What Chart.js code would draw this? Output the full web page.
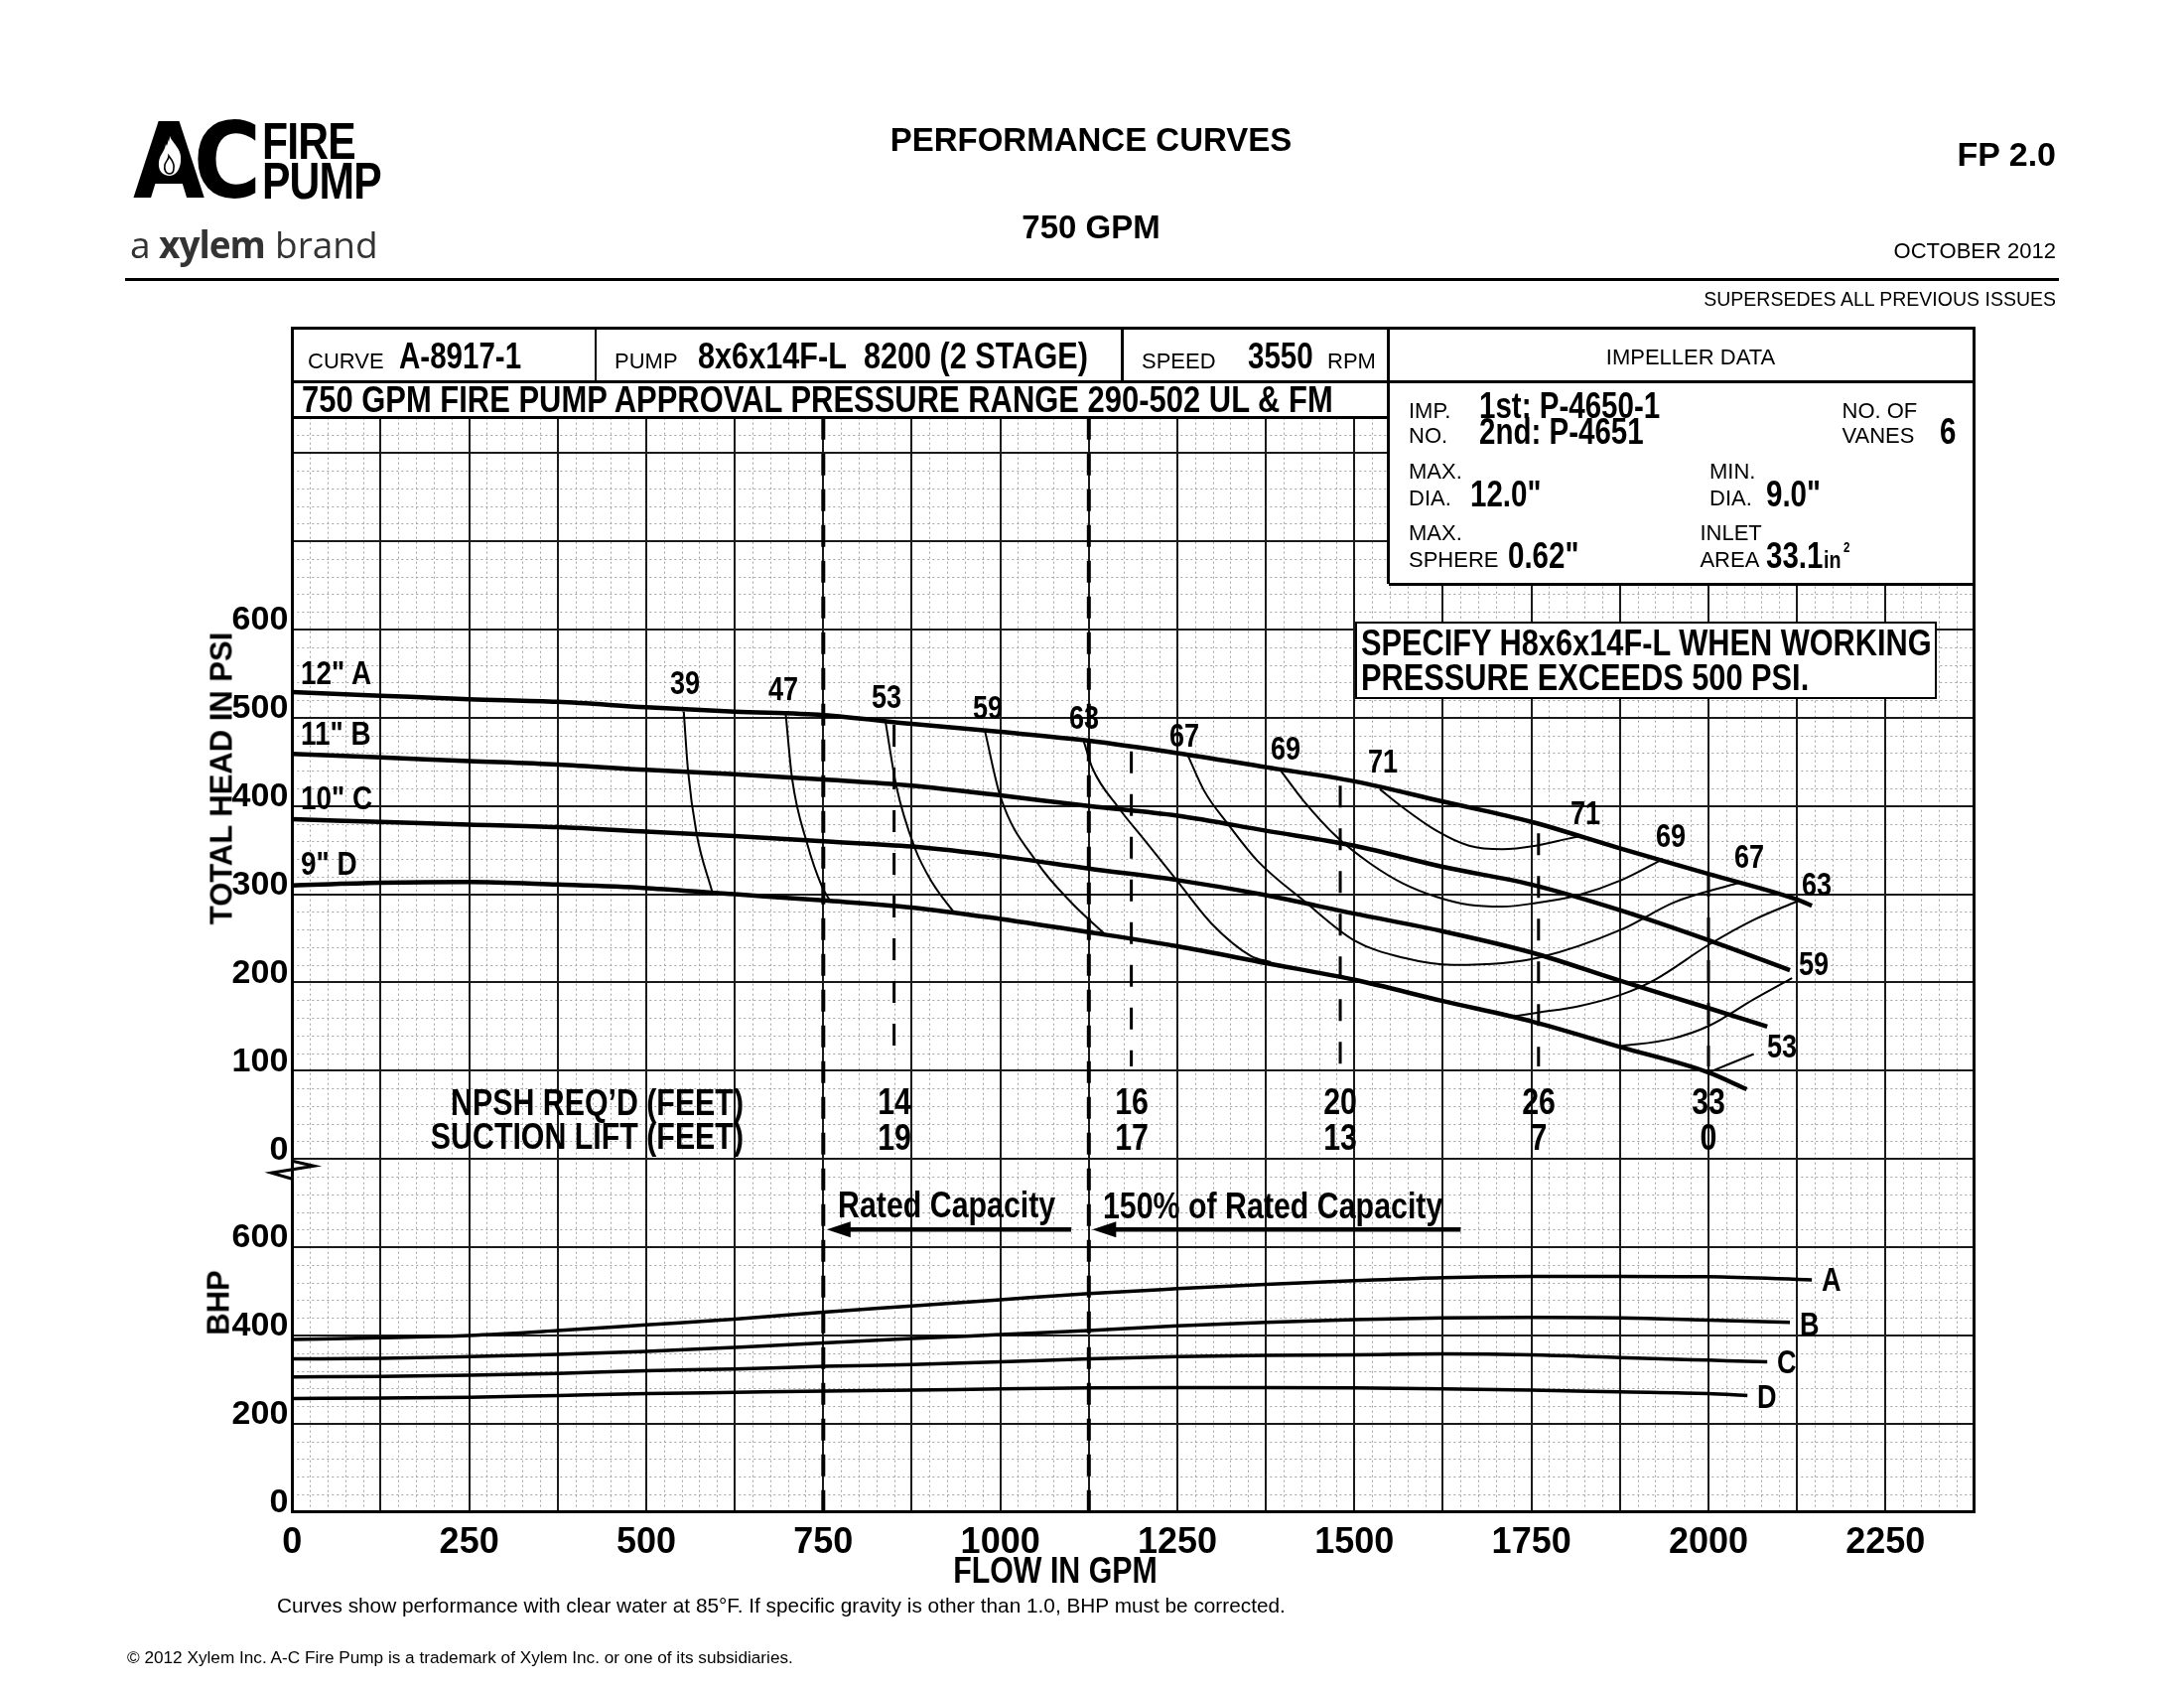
<!DOCTYPE html>
<html>
<head>
<meta charset="utf-8">
<title>Performance Curves - 750 GPM</title>
<script src="https://cdn.jsdelivr.net/npm/chart.js@4.4.1/dist/chart.umd.min.js"></script>
<style>
  html, body { margin: 0; padding: 0; background: #fff; }
  #page { position: relative; width: 2200px; height: 1700px; overflow: hidden; background: #fff;
          font-family: 'Liberation Sans', Arial, Helvetica, sans-serif; color: #000; }
  #chart { position: absolute; left: 0; top: 0; }
  .t { position: absolute; white-space: pre; line-height: 1; transform-origin: 0 0; }
</style>
</head>
<body>
<div id="page">
  <canvas id="chart" width="2200" height="1700"></canvas>
</div>
<script>
// ---- values ----
const flowTicks = [0, 250, 500, 750, 1000, 1250, 1500, 1750, 2000, 2250];
const headTicks = [0, 100, 200, 300, 400, 500, 600];
const bhpTicks = [0, 200, 400, 600];

// total head (psi) for the four impeller diameters
const headFlowA = [0, 125, 250, 375, 500, 625, 750, 875, 1000, 1125, 1250, 1375, 1500, 1625, 1750, 1875, 2000, 2125, 2146];
const headA     = [529, 525, 521, 518, 512, 507, 503, 493, 484, 474, 460, 444, 428, 405, 382, 352, 323, 294, 287];
const headFlowB = [0, 125, 250, 375, 500, 625, 750, 875, 1000, 1125, 1250, 1375, 1500, 1625, 1750, 1875, 2000, 2115];
const headB     = [459, 455, 451, 447, 441, 436, 430, 423, 412, 400, 389, 372, 355, 331, 311, 282, 248, 214];
const headFlowC = [0, 125, 250, 375, 500, 625, 750, 875, 1000, 1125, 1250, 1375, 1500, 1625, 1750, 1875, 2000, 2083];
const headC     = [385, 382, 379, 376, 371, 366, 360, 354, 343, 329, 316, 299, 278, 258, 234, 202, 171, 150];
const headFlowD = [0, 125, 250, 375, 500, 625, 750, 875, 1000, 1125, 1250, 1375, 1500, 1625, 1750, 1875, 2000, 2054];
const headD     = [310, 313, 314, 311, 307, 300, 293, 285, 272, 257, 241, 222, 203, 179, 156, 127, 98, 79];

// brake horsepower
const bhpFlowA = [0, 125, 250, 375, 500, 625, 750, 875, 1000, 1125, 1250, 1375, 1500, 1625, 1750, 1875, 2000, 2146];
const bhpA     = [391, 395, 400, 411, 424, 437, 453, 467, 481, 495, 506, 516, 524, 531, 534, 534, 533, 526];
const bhpFlowB = [0, 125, 250, 375, 500, 625, 750, 875, 1000, 1125, 1250, 1375, 1500, 1625, 1750, 1875, 2000, 2115];
const bhpB     = [347, 348, 352, 357, 364, 373, 383, 393, 402, 411, 422, 430, 436, 440, 441, 440, 435, 430];
const bhpFlowC = [0, 125, 250, 375, 500, 625, 750, 875, 1000, 1125, 1250, 1375, 1500, 1625, 1750, 1875, 2000, 2083];
const bhpC     = [306, 307, 310, 314, 320, 324, 330, 334, 340, 347, 352, 355, 356, 358, 356, 350, 344, 340];
const bhpFlowD = [0, 125, 250, 375, 500, 625, 750, 875, 1000, 1125, 1250, 1375, 1500, 1625, 1750, 1875, 2000, 2055];
const bhpD     = [257, 258, 260, 264, 268, 271, 274, 276, 279, 281, 282, 282, 281, 279, 276, 272, 268, 264];

// iso-efficiency lines [flow, head]
const eff39 = [[553, 507], [559, 440], [571, 369], [593, 303]];
const eff47 = [[697, 504], [706, 431], [727, 358], [748, 309], [760, 292]];
const eff53 = [[838, 495], [853, 423], [879, 353], [904, 313], [936, 278]];
const eff59 = [[978, 486], [1000, 411], [1052, 336], [1101, 290], [1146, 256]];
const eff63 = [[1118, 473], [1130, 443], [1167, 398], [1204, 361], [1249, 316], [1298, 267], [1354, 230], [1382, 223]];
const eff67 = [[1265, 457], [1288, 417], [1321, 380], [1363, 338], [1428, 293], [1499, 248], [1569, 228], [1639, 220],
               [1709, 222], [1760, 228], [1877, 260], [1952, 291], [2043, 313]];
const eff69 = [[1396, 440], [1428, 406], [1475, 365], [1522, 335], [1569, 312], [1616, 297], [1662, 288], [1709, 286],
               [1756, 290], [1816, 299], [1877, 316], [1936, 340]];
const eff71 = [[1536, 419], [1569, 398], [1616, 372], [1662, 355], [1709, 351], [1756, 355], [1802, 363], [1820, 366]];
const eff63b = [[1728, 162], [1760, 166], [1816, 173], [1876, 186], [1924, 203], [2001, 243], [2064, 271], [2125, 292]];
const eff59b = [[1877, 128], [1947, 136], [2001, 151], [2064, 181], [2118, 205]];
const eff53b = [[2000, 98], [2064, 119]];

// NPSH table
const npshFlow = [850, 1185, 1480, 1760, 2000];
const npshReq = [14, 16, 20, 26, 33];
const suctionLift = [19, 17, 13, 7, 0];
const npshTop = [492, 462, 423, 369, 322];
const npshFoot = 105;

const ratedFlow = [750, 1125];

// ---- fonts ----
function hasFont(name) {
  const c = document.createElement('canvas').getContext('2d');
  const s = 'abcdefghijklmnopqrstuvwxyzABCDEFGH0123456789';
  c.font = 'bold 40px monospace';
  const w0 = c.measureText(s).width;
  c.font = "bold 40px '" + name + "', monospace";
  return Math.abs(c.measureText(s).width - w0) > 1;
}
const NARROW = hasFont('Liberation Sans Narrow');
const narrowFamily = NARROW ? "'Liberation Sans Narrow', 'Liberation Sans', sans-serif" : "'Liberation Sans', Arial, sans-serif";
const squeeze = NARROW ? 1 : 0.82;

// ---- chart ----
const headMin = -400, headMax = 840, bhpMax = 2480;

function pts(fl, vals) { return fl.map(function(f, i) { return {x: f, y: vals[i]}; }); }
function pairs(arr) { return arr.map(function(p) { return {x: p[0], y: p[1]}; }); }

const datasets = [];
[[headFlowA, headA], [headFlowB, headB], [headFlowC, headC], [headFlowD, headD]].forEach(function(c) {
  datasets.push({data: pts(c[0], c[1]), yAxisID: 'yH', borderWidth: 4.5, cubicInterpolationMode: 'monotone'});
});
[[bhpFlowA, bhpA], [bhpFlowB, bhpB], [bhpFlowC, bhpC], [bhpFlowD, bhpD]].forEach(function(c) {
  datasets.push({data: pts(c[0], c[1]), yAxisID: 'yB', borderWidth: 3.5, cubicInterpolationMode: 'monotone'});
});
[eff39, eff47, eff53, eff59, eff63, eff67, eff69, eff71, eff63b, eff59b, eff53b].forEach(function(e) {
  datasets.push({data: pairs(e), yAxisID: 'yH', borderWidth: 2, cubicInterpolationMode: 'monotone'});
});
ratedFlow.forEach(function(f) {
  datasets.push({data: [{x: f, y: headMin}, {x: f, y: headMax}], yAxisID: 'yH', borderWidth: 4, borderDash: [22, 14], tension: 0});
});
const npshMarks = [];
npshFlow.forEach(function(f, i) {
  npshMarks.push({x: f, y: npshTop[i]}, {x: f, y: npshFoot}, {x: f, y: null});
});
datasets.push({data: npshMarks, yAxisID: 'yH', borderWidth: 3, borderDash: [22, 21], tension: 0, spanGaps: false});

const paperGrid = {
  id: 'paperGrid',
  beforeDraw: function(chart) {
    const ctx = chart.ctx, a = chart.chartArea, x = chart.scales.x, yH = chart.scales.yH;
    ctx.save();
    ctx.strokeStyle = '#a3a3a3';
    ctx.lineWidth = 1;
    ctx.setLineDash([2, 3]);
    ctx.beginPath();
    for (let f = 25; f < x.max; f += 25) {
      if (f % 125 === 0) continue;
      const px = Math.round(x.getPixelForValue(f)) + 0.5;
      ctx.moveTo(px, a.top); ctx.lineTo(px, a.bottom);
    }
    for (let h = yH.min + 20; h < yH.max; h += 20) {
      if (h % 100 === 0) continue;
      const py = Math.round(yH.getPixelForValue(h)) + 0.5;
      ctx.moveTo(a.left, py); ctx.lineTo(a.right, py);
    }
    ctx.stroke();
    ctx.restore();
  },
  afterDraw: function(chart) {
    const ctx = chart.ctx, x = chart.scales.x, yH = chart.scales.yH, yB = chart.scales.yB;
    const ax = x.getPixelForValue(0), y0 = yH.getPixelForValue(0);
    ctx.save();
    ctx.strokeStyle = '#000';
    ctx.fillStyle = '#000';
    ctx.setLineDash([]);
    // axis break between the head and BHP panels
    ctx.lineWidth = 3;
    ctx.beginPath();
    ctx.moveTo(ax, y0 + 2); ctx.lineTo(ax + 22, y0 + 7); ctx.lineTo(ax - 21, y0 + 14); ctx.lineTo(ax, y0 + 20);
    ctx.stroke();
    // capacity arrows
    const ay = yB.getPixelForValue(640);
    [[ratedFlow[0], 1100], [ratedFlow[1], 1650]].forEach(function(r) {
      const tip = x.getPixelForValue(r[0]) + 3.5, end = x.getPixelForValue(r[1]);
      ctx.lineWidth = 4.5;
      ctx.beginPath(); ctx.moveTo(tip + 18, ay); ctx.lineTo(end, ay); ctx.stroke();
      ctx.beginPath(); ctx.moveTo(tip, ay); ctx.lineTo(tip + 24, ay - 8); ctx.lineTo(tip + 24, ay + 8); ctx.closePath(); ctx.fill();
    });
    ctx.restore();
  }
};

const chart = new Chart(document.getElementById('chart'), {
  type: 'line',
  data: {datasets: datasets},
  options: {
    responsive: false,
    animation: false,
    events: [],
    layout: {padding: {left: 0, right: 211.5, top: 420.7, bottom: 117.3}},
    plugins: {legend: {display: false}, tooltip: {enabled: false}},
    elements: {
      point: {radius: 0, hitRadius: 0},
      line: {borderColor: '#000', fill: false, borderCapStyle: 'butt'}
    },
    scales: {
      x: {
        type: 'linear', min: 0, max: 2375,
        afterFit: function(s) { s.height = 60; },
        border: {display: false},
        grid: {color: '#1a1a1a', lineWidth: 2, drawTicks: false},
        ticks: {
          stepSize: 125, autoSkip: false, maxRotation: 0, padding: 10, color: '#000',
          font: {family: narrowFamily, size: 36, weight: 'bold'},
          callback: function(v) { return flowTicks.indexOf(Math.round(v)) >= 0 ? String(Math.round(v)) : ''; }
        }
      },
      yH: {
        type: 'linear', position: 'left', min: headMin, max: headMax,
        afterFit: function(s) { s.width = 294.3; },
        border: {display: false},
        grid: {
          drawTicks: false, lineWidth: 2,
          color: function(c) { return Math.round(c.tick.value) % 100 === 0 ? '#1a1a1a' : 'rgba(0,0,0,0)'; }
        },
        ticks: {
          stepSize: 20, autoSkip: false, padding: 4, labelOffset: -9, color: '#000',
          font: {family: narrowFamily, size: 34, weight: 'bold'},
          callback: function(v) {
            v = Math.round(v);
            if (v >= 0) return headTicks.indexOf(v) >= 0 ? String(v) : '';
            const bhp = Math.round((v - headMin) / (headMax - headMin) * bhpMax);
            return bhpTicks.indexOf(bhp) >= 0 ? String(bhp) : '';
          }
        }
      },
      yB: {type: 'linear', position: 'left', min: 0, max: bhpMax, display: false}
    }
  },
  plugins: [paperGrid]
});

// ---- sheet furniture (text, boxes, frame) ----
const page = document.getElementById('page');

function txt(str, x, base, size, o) {
  o = o || {};
  const d = document.createElement('div');
  d.className = 't';
  d.textContent = str;
  d.style.fontSize = size + 'px';
  if (o.n) { d.style.fontFamily = narrowFamily; d.style.fontWeight = 'bold'; }
  else if (o.b) d.style.fontWeight = 'bold';
  if (o.family) d.style.fontFamily = o.family;
  if (o.color) d.style.color = o.color;
  if (o.ls) d.style.letterSpacing = o.ls + 'px';
  const k = (o.n ? squeeze : 1) * (o.k || 1);
  const shift = o.align === 'c' ? -50 : (o.align === 'r' ? -100 : 0);
  d.style.left = x + 'px';
  d.style.top = (base - 0.846 * size) + 'px';
  d.style.transform = 'scaleX(' + k + ') translateX(' + shift + '%)';
  page.appendChild(d);
  return d;
}
function box(x, y, w, h, css) {
  const d = document.createElement('div');
  d.style.cssText = 'position:absolute;box-sizing:border-box;left:' + x + 'px;top:' + y + 'px;width:' + w + 'px;height:' + h + 'px;' + (css || '');
  page.appendChild(d);
  return d;
}
function hline(x1, x2, y, t) { return box(x1, y - t / 2, x2 - x1, t, 'background:#000'); }
function vline(x, y1, y2, t) { return box(x - t / 2, y1, t, y2 - y1, 'background:#000'); }
function vtext(str, cx, cy, size) {
  const d = document.createElement('div');
  d.className = 't';
  d.textContent = str;
  d.style.cssText += ';font-weight:bold;font-size:' + size + 'px;left:' + cx + 'px;top:' + cy + 'px;transform-origin:50% 50%;transform:translate(-50%,-50%) rotate(-90deg);';
  page.appendChild(d);
}

const A = chart.chartArea;
const L = A.left, R = A.right, B = A.bottom, T = 331;

// header boxes
box(1398.5, 384, R - 1398.5, 204, 'background:#fff');
hline(L, R, 384, 3);
hline(L, 1398.5, 420.7, 3);
vline(600, T, 384, 2.5);
vline(1130.6, T, 384, 2.5);
vline(1398.5, T, 588, 3);
hline(1398.5, R, 588, 3);
box(L - 1.75, T - 1.75, R - L + 3.5, B - T + 3.5, 'border:3.5px solid #000');
box(1365, 626, 585.5, 78, 'background:#fff;border:2.5px solid #000');

// logo and titles
txt('AC', 134, 200, 106, {family: "'DejaVu Sans', sans-serif", b: true, ls: -13, k: 0.88});
box(157, 136, 28, 42, '');
page.lastChild.innerHTML = '<svg width="28" height="42" viewBox="0 0 28 42"><path d="M14 1 C17 9 27 14 25 27 C24 36 19 41 14 41 C7 41 2 36 3 27 C4 19 9 17 10 9 C12 13 13 15 14 17 C15 11 13 6 14 1 Z" fill="#fff"/><path d="M14 39 C10 39 8 35 9 30 C10 26 13 25 13 21 C16 25 19 28 18 33 C18 37 16 39 14 39 Z" fill="none" stroke="#000" stroke-width="1.6"/></svg>';
txt('FIRE', 264, 160, 52, {n: true, ls: -1});
txt('PUMP', 264, 200, 52, {n: true, ls: -1});
txt('a', 131, 258, 37, {family: "'Open Sans', sans-serif", color: '#333'});
txt('xylem', 160, 258, 37, {family: "'Open Sans', sans-serif", color: '#333', b: true, ls: -1});
txt('brand', 277, 258, 37, {family: "'Open Sans', sans-serif", color: '#333'});
hline(126, 2074, 281.5, 3);
txt('PERFORMANCE CURVES', 1099, 152, 33, {b: true, align: 'c'});
txt('750 GPM', 1099, 240, 33, {b: true, align: 'c'});
txt('FP 2.0', 2071, 167, 34, {b: true, align: 'r'});
txt('OCTOBER 2012', 2071, 261, 22, {align: 'r'});
txt('SUPERSEDES ALL PREVIOUS ISSUES', 2071, 308, 19.5, {align: 'r'});

// header row
txt('CURVE', 310, 371.7, 22);
txt('A-8917-1', 402, 371.7, 36, {n: true});
txt('PUMP', 619, 371.7, 22);
txt('8x6x14F-L\u00a0\u00a08200 (2 STAGE)', 703, 371.7, 37, {n: true, k: 1.01});
txt('SPEED', 1150, 371.7, 22);
txt('3550', 1257, 371.7, 36, {n: true});
txt('RPM', 1337, 371.7, 22);
txt('IMPELLER DATA', 1703, 368, 22, {align: 'c'});
txt('750 GPM FIRE PUMP APPROVAL PRESSURE RANGE 290-502 UL & FM', 304, 415, 37, {n: true, k: 1.02});

// impeller data
txt('IMP.', 1419, 422, 22);
txt('NO.', 1419, 447, 22);
txt('1st: P-4650-1', 1490, 421, 36, {n: true});
txt('2nd: P-4651', 1490, 447, 36, {n: true});
txt('NO. OF', 1855.5, 422, 22);
txt('VANES', 1855.5, 447, 22);
txt('6', 1953.6, 447, 36, {n: true});
txt('MAX.', 1419, 483, 22);
txt('DIA.', 1419, 510, 22);
txt('12.0"', 1481, 510, 36, {n: true});
txt('MIN.', 1722, 483, 22);
txt('DIA.', 1722, 510, 22);
txt('9.0"', 1779, 510, 36, {n: true});
txt('MAX.', 1419, 545, 22);
txt('SPHERE', 1419, 572, 22);
txt('0.62"', 1519.4, 572, 36, {n: true});
txt('INLET', 1712.4, 545, 22);
txt('AREA', 1712.4, 572, 22);
txt('33.1', 1779, 572, 36, {n: true});
txt('in', 1837, 572, 24, {n: true});
txt('2', 1857, 556, 14, {n: true});

txt('SPECIFY H8x6x14F-L WHEN WORKING', 1371, 661, 37.5, {n: true});
txt('PRESSURE EXCEEDS 500 PSI.', 1371, 696, 37.5, {n: true});

// curve names
txt('12" A', 303, 688.7, 34, {n: true});
txt('11" B', 303, 750, 34, {n: true});
txt('10" C', 303, 815, 34, {n: true});
txt('9" D', 303, 880.5, 34, {n: true});

// efficiency labels
[['39', 690, 699], ['47', 789, 704.5], ['53', 893, 712.5], ['59', 994.5, 724], ['63', 1092, 734],
 ['67', 1193, 752], ['69', 1294.5, 765], ['71', 1393, 778],
 ['71', 1596.5, 829.6], ['69', 1683, 852.6], ['67', 1762, 873.6]].forEach(function(e) {
  txt(e[0], e[1], e[2], 33, {n: true, align: 'c'});
});
txt('63', 1815, 902, 33, {n: true});
txt('59', 1812, 981.7, 33, {n: true});
txt('53', 1780, 1065, 33, {n: true});

// NPSH table
txt('NPSH REQ\u2019D (FEET)', 748.6, 1123.7, 37, {n: true, align: 'r'});
txt('SUCTION LIFT (FEET)', 748.6, 1157.3, 37, {n: true, align: 'r'});
npshFlow.forEach(function(f, i) {
  const px = chart.scales.x.getPixelForValue(f);
  txt(String(npshReq[i]), px, 1122.4, 37, {n: true, align: 'c'});
  txt(String(suctionLift[i]), px, 1158.7, 37, {n: true, align: 'c'});
});

// capacity notes
txt('Rated Capacity', chart.scales.x.getPixelForValue(ratedFlow[0]) + 14.7, 1226.7, 37, {n: true});
txt('150% of Rated Capacity', chart.scales.x.getPixelForValue(ratedFlow[1]) + 14, 1227, 37, {n: true});

// BHP curve names
txt('A', 1835, 1300, 33, {n: true});
txt('B', 1813, 1345, 33, {n: true});
txt('C', 1790, 1383, 33, {n: true});
txt('D', 1770, 1418, 33, {n: true});

// axis titles
vtext('TOTAL HEAD IN PSI', 223, 783.7, 31);
vtext('BHP', 220, 1312, 31);
txt('FLOW IN GPM', 1063, 1594, 37, {n: true, align: 'c'});

// footer
txt('Curves show performance with clear water at 85\u00b0F. If specific gravity is other than 1.0, BHP must be corrected.', 279, 1625, 20.8);
txt('\u00a9 2012 Xylem Inc. A-C Fire Pump is a trademark of Xylem Inc. or one of its subsidiaries.', 128, 1676, 17.2);
</script>
</body>
</html>
